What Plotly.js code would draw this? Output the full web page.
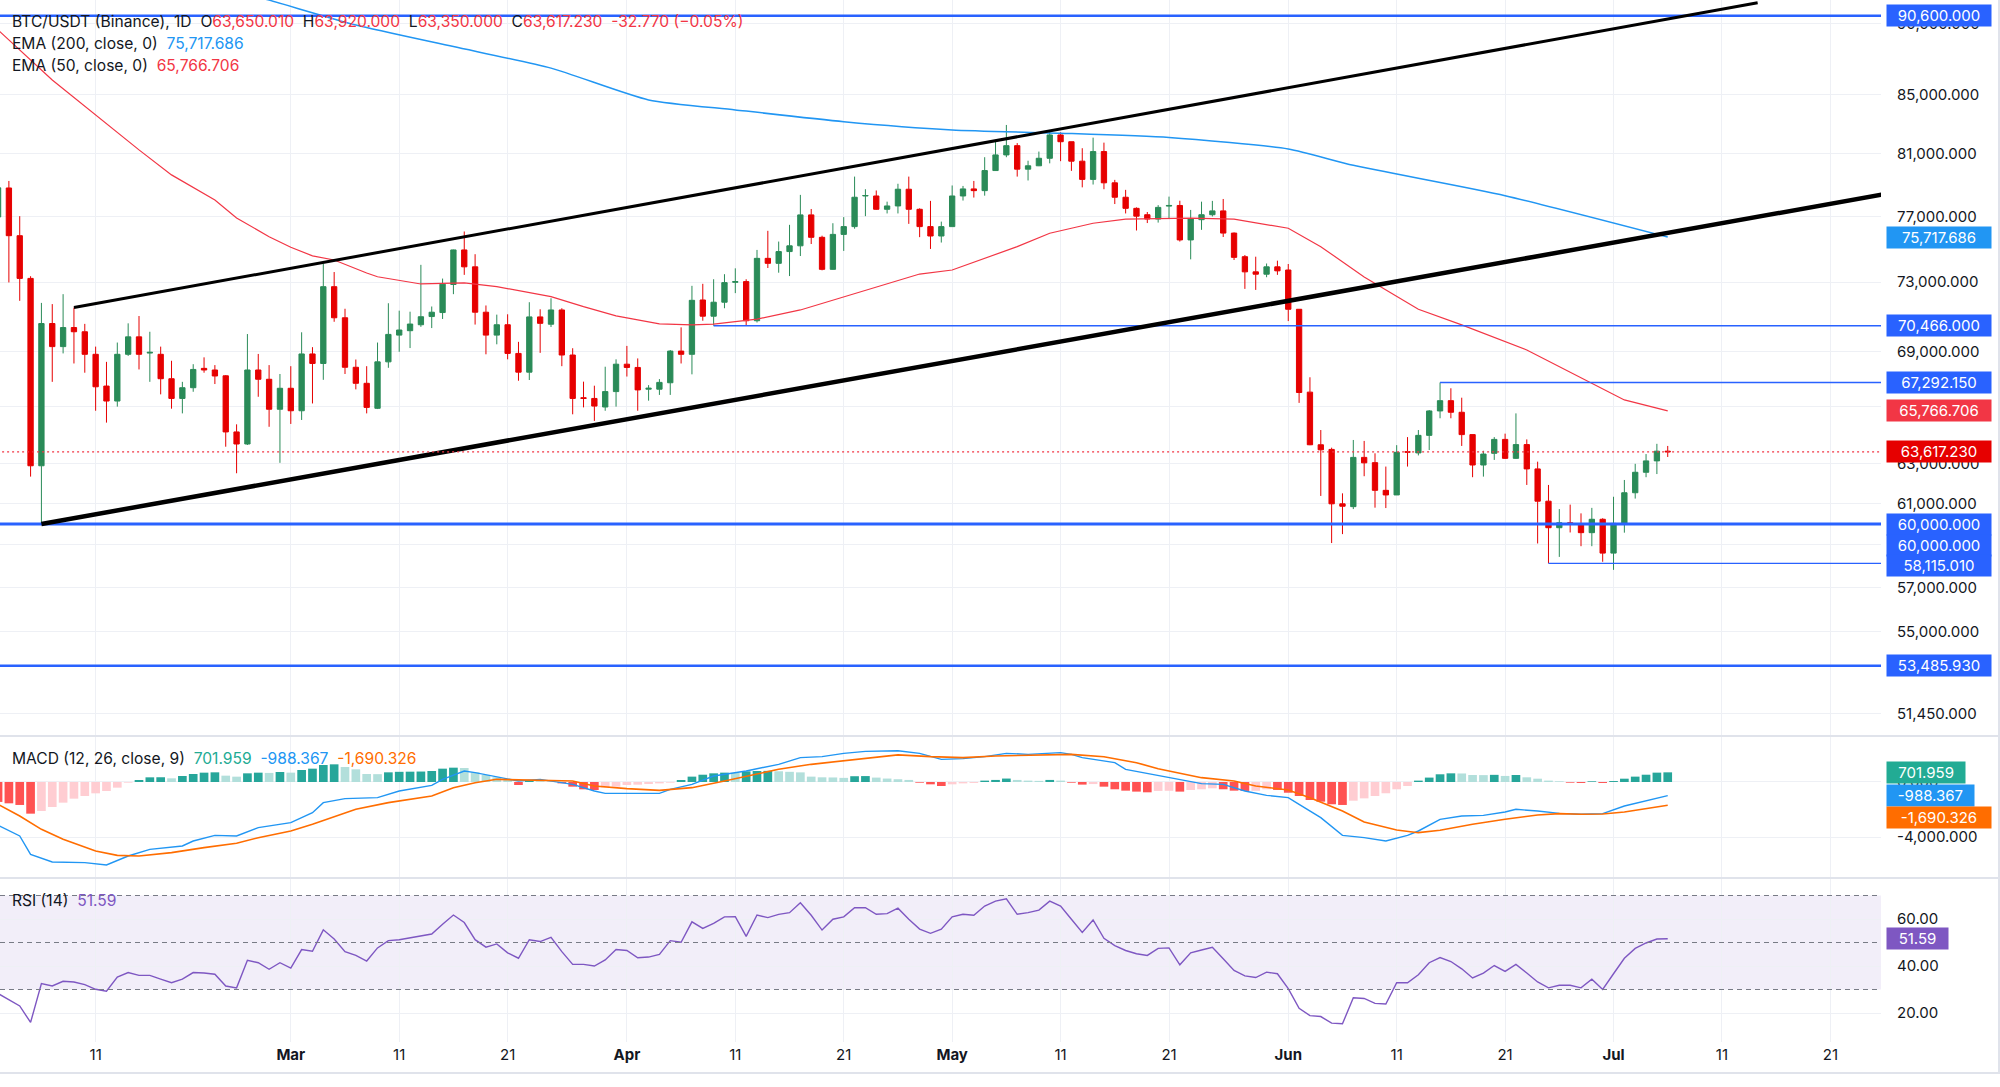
<!DOCTYPE html>
<html><head><meta charset="utf-8">
<script src="https://cdn.plot.ly/plotly-3.0.1.min.js"></script>
<style>html,body{margin:0;padding:0;background:#fff;}#chart{width:2000px;height:1087px;}</style>
</head><body><div id="chart"></div>
<script>
// ---------- DATA (BTC/USDT daily, 2026-02-02 .. 2026-07-06) ----------
const opens = [
76960,78790,75800,73220,62900,70590,69280,70360,70120,68850,67100,66290,68850,69830,68920,68850,67500,66430,67010,68070,67980,67660,64650,64020,67980,67470,65850,
66980,65770,68870,68340,72730,70920,68130,67250,65900,68430,69930,70180,70520,70990,71220,72860,74930,73910,71240,69930,70520,68900,67860,70970,70550,71370,68810,66470,66430,65970,66800,
68300,68120,66930,66930,67280,69030,68850,71950,71010,71820,72990,73030,70750,74420,74120,74830,75180,77090,75700,73760,75880,76360,78280,78280,77440,77650,78710,77440,76360,75780,
76360,78280,78730,78620,79910,80930,81540,80000,80220,80710,82250,81800,80520,79340,81150,79120,78200,77500,77100,76830,77640,77680,75540,76790,77100,77340,75960,74520,73610,73470,73910,
73720,71410,66770,63980,63740,60990,60850,63330,63060,61660,61430,63620,63560,64470,65760,66310,65690,64510,62940,63540,64260,63280,63990,62740,61120,59820,60060,60000,59580,60230,
58600,60030,61540,62570,63150,63650.01];
const highs = [
79400,79240,77010,73350,71780,71710,72290,71510,70570,69280,68430,69510,70600,71020,70120,69280,68490,67330,68300,68680,68250,67700,65050,69990,68870,68250,67760,
68190,70090,69250,74090,73600,71440,68560,68190,69510,71760,71330,71270,74030,71570,73210,74950,76060,74670,71630,71100,71120,69550,71820,71410,72050,71470,69190,67340,67120,68160,68570,
69320,68620,67150,67480,69090,70370,72780,72900,73170,73470,73820,73170,74930,76100,75440,76470,78350,77460,75800,76570,76950,79520,78710,78630,77920,79060,79520,77500,77970,76670,
78950,78920,79240,80780,81850,82920,81710,80550,81150,82520,82430,81800,81370,82070,81740,79310,78670,77560,77270,77700,78240,77980,77400,77920,77970,78090,76000,74620,74520,74110,74280,
74080,71410,67580,64750,63830,61510,64230,64180,63540,62860,63960,64380,64750,65810,67292.15,66980,66470,64510,63670,64380,64560,65630,64260,63110,61930,60730,60950,60520,60790,60280,
61340,62180,63000,63500,64030,63920];
const lows = [
76500,72980,71900,62350,60000,67330,68900,68340,67830,65770,65140,65990,68760,68010,67330,66650,65880,65630,66790,67830,67210,63880,62520,63970,66520,64920,63050,
65070,65280,66160,67440,70690,67760,66920,65630,65860,68100,68990,69200,70400,70330,70850,72290,73430,70530,68850,69410,68570,67390,67430,68930,70390,68190,65580,65950,65230,65770,65990,
67620,65770,66310,66620,66620,68340,67740,70750,70470,71470,72350,70500,70650,73840,73560,73360,74560,75290,73700,73740,74870,76230,77010,77400,77180,77180,76530,75710,74990,75380,
76360,77990,78180,78300,79890,80780,79520,79270,80200,80380,80520,79890,78830,79010,78710,77770,77180,76120,76580,76610,76830,75440,74360,76160,76990,75720,74320,72600,72540,73290,73430,
70730,66190,63960,61380,59080,59510,60730,62370,60800,60780,61430,62860,63430,63710,65370,65370,63920,62320,62350,63200,63250,63250,61930,59060,58115.01,58420,59590,58930,58930,58190,
57810,59580,61250,62320,62480,63350];
const closes = [
78800,75800,73220,62900,70590,69280,70360,70120,68850,67060,66290,68850,69830,68850,68960,67500,66430,67010,68010,67980,67650,64650,64020,67980,67470,65850,66980,
65770,68870,68340,72730,70920,68130,67250,65950,68430,69970,70220,70560,70980,71240,72880,74930,73910,71240,69930,70520,68900,67860,70970,70600,71370,68810,66430,66430,66020,66800,68300,
68120,66890,66980,67300,69030,68850,71930,71010,71820,72970,73030,70750,74420,74120,74830,75180,77090,75700,73760,75880,76360,78200,78310,77440,77650,78710,77440,76360,75780,76360,
78280,78730,78620,79910,80930,81540,80000,80220,80710,82250,81800,80520,79340,81150,79120,78200,77500,77010,76830,77560,77680,75540,76830,77100,77340,75960,74480,73610,73470,73910,73670,
71410,66750,63980,63720,60990,60870,63330,63050,61660,61430,63590,63600,64470,65760,66310,65690,64510,62940,63500,64260,63280,63990,62740,61120,59820,60060,60000,59580,60230,58600,
60030,61540,62570,63150,63650,63617.23];

const ema200Dates = ['2026-02-20','2026-02-27','2026-03-07','2026-03-16','2026-03-25','2026-04-03','2026-04-11','2026-04-21','2026-05-01','2026-05-11','2026-05-21','2026-06-01','2026-06-07','2026-06-21','2026-07-06'];
const ema200Vals  = [93300,91750,89920,88360,86830,84620,83940,83140,82590,82370,82080,81320,80250,78300,75717.686];

const ema50Dates = ['2026-02-02','2026-02-07','2026-02-15','2026-02-18','2026-02-22','2026-02-24','2026-02-27','2026-03-01','2026-03-03','2026-03-05','2026-03-08','2026-03-09','2026-03-13','2026-03-17','2026-03-20','2026-03-23','2026-03-25','2026-03-28','2026-03-31','2026-04-04','2026-04-07','2026-04-09','2026-04-13','2026-04-17','2026-04-20','2026-04-24','2026-04-28','2026-05-01','2026-05-04','2026-05-07','2026-05-10','2026-05-14','2026-05-17','2026-05-23','2026-05-27','2026-06-01','2026-06-04','2026-06-08','2026-06-13','2026-06-17','2026-06-23','2026-06-29','2026-07-02','2026-07-06'];
const ema50Vals  = [89560,86000,81260,79630,78030,76900,75740,75090,74570,74320,73540,73320,72890,72960,72730,72380,72150,71560,71030,70570,70510,70550,70840,71370,71950,72730,73480,73720,74430,75130,75950,76570,76820,76890,76820,76260,75130,73300,71410,70510,69090,67250,66350,65766.706];

const macdDates = ['2026-02-02','2026-02-04','2026-02-05','2026-02-07','2026-02-10','2026-02-12','2026-02-14','2026-02-16','2026-02-19','2026-02-20','2026-02-22','2026-02-24','2026-02-26','2026-03-01','2026-03-03','2026-03-04','2026-03-06','2026-03-09','2026-03-11','2026-03-14','2026-03-15','2026-03-17','2026-03-18','2026-03-20','2026-03-22','2026-03-24','2026-03-27','2026-03-29','2026-03-30','2026-04-01','2026-04-04','2026-04-05','2026-04-07','2026-04-09','2026-04-12','2026-04-15','2026-04-17','2026-04-19','2026-04-21','2026-04-23','2026-04-26','2026-04-28','2026-04-30','2026-05-02','2026-05-04','2026-05-06','2026-05-08','2026-05-11','2026-05-12','2026-05-13','2026-05-16','2026-05-17','2026-05-20','2026-05-22','2026-05-24','2026-05-26','2026-05-28','2026-05-30','2026-06-01','2026-06-02','2026-06-04','2026-06-06','2026-06-08','2026-06-10','2026-06-12','2026-06-13','2026-06-15','2026-06-17','2026-06-19','2026-06-21','2026-06-22','2026-06-24','2026-06-26','2026-06-28','2026-06-30','2026-07-02','2026-07-04','2026-07-06'];
const macdVals  = [-3151,-3927,-5260,-5818,-5866,-6036,-5381,-4897,-4654,-4291,-3879,-3927,-3321,-2957,-2230,-1503,-1212,-1139,-655,-243,194,800,679,388,73,194,-170,-655,-824,-824,-824,-533,-170,436,800,1285,1769,1842,2085,2230,2270,2085,1648,1697,1842,2085,2012,2133,2012,1769,1406,921,485,194,-121,-170,-655,-970,-1139,-1624,-2594,-3879,-4048,-4291,-3879,-3563,-2715,-2473,-2424,-2182,-1988,-2109,-2279,-2351,-2303,-1745,-1350,-988.367];

const signalDates = ['2026-02-02','2026-02-04','2026-02-06','2026-02-08','2026-02-11','2026-02-13','2026-02-15','2026-02-18','2026-02-21','2026-02-24','2026-02-26','2026-03-01','2026-03-03','2026-03-05','2026-03-07','2026-03-10','2026-03-14','2026-03-16','2026-03-18','2026-03-20','2026-03-24','2026-03-27','2026-03-29','2026-04-01','2026-04-04','2026-04-07','2026-04-10','2026-04-13','2026-04-15','2026-04-18','2026-04-21','2026-04-26','2026-04-29','2026-05-02','2026-05-05','2026-05-08','2026-05-12','2026-05-15','2026-05-18','2026-05-20','2026-05-22','2026-05-24','2026-05-27','2026-05-29','2026-06-01','2026-06-03','2026-06-06','2026-06-08','2026-06-11','2026-06-13','2026-06-15','2026-06-18','2026-06-21','2026-06-24','2026-06-26','2026-06-28','2026-06-30','2026-07-02','2026-07-06'];
const signalVals  = [-1624,-2473,-3442,-4169,-5018,-5333,-5381,-5139,-4775,-4460,-4048,-3563,-3079,-2530,-1988,-1503,-1018,-412,-49,194,145,73,-291,-485,-606,-412,73,557,921,1285,1527,1970,1842,1769,1891,1963,2012,1842,1406,970,630,315,73,-291,-582,-1139,-2109,-2909,-3491,-3685,-3515,-3079,-2715,-2400,-2303,-2351,-2327,-2182,-1690.326];

const macdHist = [
-1450,-1551,-1670,-2303,-2109,-1818,-1503,-1212,-1018,-824,-655,-412,-49,145,339,345,267,436,582,679,703,461,388,630,679,660,727,
680,873,970,1236,1285,1090,921,582,570,703,740,750,760,800,970,1042,1018,703,509,339,194,-218,100,60,40,-100,-340,-533,-582,-390,-340,
-220,-195,-145,-100,-50,145,390,530,630,680,660,775,800,810,780,740,700,390,340,330,300,420,430,320,250,200,150,-50,-170,-290,
-170,-100,-70,100,150,250,150,100,80,150,100,-50,-190,-150,-340,-530,-630,-700,-750,-650,-640,-700,-580,-530,-460,-530,-630,-650,-640,-530,-580,
-780,-1020,-1310,-1430,-1620,-1670,-1360,-1190,-1020,-820,-530,-290,100,320,560,630,620,510,500,520,440,510,340,240,100,50,-50,-70,50,-70,
70,240,390,530,680,701.959];

const rsiVals = [
28.3,25.5,23.0,16.0,32.5,31.5,33.5,33.2,32.1,30.1,29.3,35.3,37.2,36.0,36.0,34.4,32.9,34.4,37.2,37.0,36.5,31.5,30.7,42.4,41.4,38.6,41.4,
39.1,47.0,46.3,55.4,51.5,46.1,44.5,42.1,47.7,50.8,51.2,52.0,52.9,53.6,57.8,61.7,58.5,51.2,48.0,49.4,45.6,43.3,51.2,50.4,52.2,46.1,40.7,40.7,40.0,42.6,47.0,
46.6,43.5,43.8,44.9,50.8,50.1,58.8,56.0,58.1,60.9,61.0,52.6,61.7,60.6,62.0,62.7,66.9,61.6,55.3,59.9,60.9,64.8,64.8,62.0,62.3,64.6,59.9,55.7,
53.9,55.7,60.9,62.0,61.6,65.5,67.6,68.6,62.0,62.7,63.8,67.6,65.5,59.9,54.3,59.6,51.8,48.7,46.6,45.2,44.5,47.5,47.7,40.5,45.6,46.8,48.0,43.1,38.1,
35.8,35.1,37.4,36.7,30.4,22.0,18.9,18.5,15.7,15.4,26.5,26.2,24.1,23.8,32.9,32.9,36.3,41.4,43.6,41.9,38.8,34.9,37.0,40.2,37.7,40.7,37.0,33.2,30.7,31.8,31.8,30.7,34.4,30.0,
36.7,43.3,47.5,49.8,51.5,51.59];

// drawings
const hLevelsFull = [90600, 60000, 53485.93];
const hLevelsRay = [{v:70466, from:'2026-04-09'}, {v:67292.15, from:'2026-06-15'}, {v:58115.01, from:'2026-06-25'}];
const upperTrend = {x:['2026-02-09','2026-07-14 07:00'], y:[71510, 91560]};
const lowerTrend = {x:['2026-02-06','2026-07-26'], y:[60000, 78400]};
const lastPrice = 63617.23;

const tickDates = ['2026-02-11','2026-03-01','2026-03-11','2026-03-21','2026-04-01','2026-04-11','2026-04-21','2026-05-01','2026-05-11','2026-05-21','2026-06-01','2026-06-11','2026-06-21','2026-07-01','2026-07-11','2026-07-21'];
const tickLabels = ['11','Mar','11','21','Apr','11','21','May','11','21','Jun','11','21','Jul','11','21'];
const priceTicks = [90000,85000,81000,77000,73000,69000,66000,63000,61000,59000,57000,55000,51450];
const hiddenPriceTicks = [66000, 59000];

// ---------- BUILD ----------
const dates = [];
for (let i = 0; i < opens.length; i++) {
  const d = new Date(Date.UTC(2026, 1, 2 + i));
  dates.push(d.toISOString().slice(0, 10));
}
const UP = '#2a8b58', DOWN = '#e60000';
const FONT = 'Inter, "Noto Sans", Roboto, sans-serif';
const fmt = (v, d) => v.toLocaleString('en-US', {minimumFractionDigits: d, maximumFractionDigits: d});
const xL = '2026-01-20', xR = '2026-08-10';
const PH = 1042; // plot height in px

const histColors = macdHist.map((v, i) => {
  const p = i > 0 ? macdHist[i - 1] : v;
  if (v >= 0) return v >= p ? '#26a69a' : '#b2dfdb';
  return v <= p ? '#ff5252' : '#ffcdd2';
});

const traces = [];
traces.push({type:'candlestick', x:dates, open:opens, high:highs, low:lows, close:closes, xaxis:'x', yaxis:'y',
  increasing:{line:{color:UP, width:1}, fillcolor:UP}, decreasing:{line:{color:DOWN, width:1}, fillcolor:DOWN},
  whiskerwidth:0, hoverinfo:'skip', showlegend:false});
traces.push({type:'scatter', mode:'lines', x:ema50Dates, y:ema50Vals, yaxis:'y', line:{color:'#f23645', width:1.2}, hoverinfo:'skip'});
traces.push({type:'scatter', mode:'lines', x:ema200Dates, y:ema200Vals, yaxis:'y', line:{color:'#2196f3', width:1.5, shape:'spline', smoothing:0.6}, hoverinfo:'skip'});
hLevelsFull.forEach(v => traces.push({type:'scatter', mode:'lines', x:[xL, xR], y:[v, v], yaxis:'y',
  line:{color:'#2962ff', width: v === 60000 ? 3 : 2.5}, hoverinfo:'skip'}));
hLevelsRay.forEach(h => traces.push({type:'scatter', mode:'lines', x:[h.from, xR], y:[h.v, h.v], yaxis:'y',
  line:{color:'#2962ff', width:1.4}, hoverinfo:'skip'}));
traces.push({type:'scatter', mode:'lines', x:upperTrend.x, y:upperTrend.y, yaxis:'y', line:{color:'#000', width:3}, hoverinfo:'skip'});
traces.push({type:'scatter', mode:'lines', x:lowerTrend.x, y:lowerTrend.y, yaxis:'y', line:{color:'#000', width:4.5}, hoverinfo:'skip'});
traces.push({type:'scatter', mode:'lines', x:[xL, xR], y:[lastPrice, lastPrice], yaxis:'y', line:{color:'#f23645', width:1.3, dash:'2px,3px'}, hoverinfo:'skip'});
// MACD
traces.push({type:'bar', x:dates, y:macdHist, yaxis:'y2', marker:{color:histColors, line:{width:0}}, width:0.8*86400000, hoverinfo:'skip'});
traces.push({type:'scatter', mode:'lines', x:macdDates, y:macdVals, yaxis:'y2', line:{color:'#2196f3', width:1.4}, hoverinfo:'skip'});
traces.push({type:'scatter', mode:'lines', x:signalDates, y:signalVals, yaxis:'y2', line:{color:'#ff6d00', width:1.6}, hoverinfo:'skip'});
// RSI
traces.push({type:'scatter', mode:'lines', x:dates, y:rsiVals, yaxis:'y3', line:{color:'#7e57c2', width:1.4}, hoverinfo:'skip'});

// axes
const mainTop = Math.log10(60000) + 524/2840, mainBot = Math.log10(60000) - 212/2840;
const gridC = '#eef0f5';
const yTickFont = {family:FONT, size:15, color:'#131722'};

function box(yref, val, text, color, yshift) {
  return {xref:'paper', x:1, xanchor:'left', xshift:5, yref:yref, y: yref === 'y' ? Math.log10(val) : val,
    yanchor:'middle', yshift: yshift || 0, text:text, showarrow:false,
    font:{family:FONT, size:15, color:'#ffffff'}, bgcolor:color, borderpad:0,
    width: text.length * 8.6 + 18, height:21, align:'center', valign:'middle'};
}
const annotations = [
  box('y', 90600, fmt(90600,3), '#2962ff'),
  box('y', 75717.686, fmt(75717.686,3), '#2196f3'),
  box('y', 70466, fmt(70466,3), '#2962ff'),
  box('y', 67292.15, fmt(67292.15,3), '#2962ff'),
  box('y', 65766.706, fmt(65766.706,3), '#f23645'),
  box('y', lastPrice, fmt(lastPrice,3), '#e60000'),
  box('y', 60000, fmt(60000,3), '#2962ff'),
  box('y', 60000, fmt(60000,3), '#2962ff', -21),
  box('y', 58115.01, fmt(58115.01,3), '#2962ff', -2.6),
  box('y', 53485.93, fmt(53485.93,3), '#2962ff'),
  box('y2', 701.959, fmt(701.959,3), '#22ab94'),
  box('y2', -988.367, fmt(-988.367,3), '#2196f3'),
  box('y2', -1690.326, fmt(-1690.326,3), '#ff6d00', -12),
  box('y3', 51.59, fmt(51.59,2), '#7e57c2'),
];
const S = '\u00a0';
const red = s => '<span style="color:#f23645">' + s + '</span>';
function legend(py, html) {
  return {xref:'paper', x:0, xanchor:'left', xshift:10, yref:'paper', y:1 - py/PH, yanchor:'middle',
    text:html, showarrow:false, align:'left', font:{family:FONT, size:15.6, color:'#131722'}};
}
annotations.push(legend(21.5, 'BTC/USDT (Binance), 1D' + S + S + 'O' + red(fmt(opens[opens.length-1],3)) + S + S + 'H' + red(fmt(highs[highs.length-1],3)) + S + S + 'L' + red(fmt(lows[lows.length-1],3)) + S + S + 'C' + red(fmt(closes[closes.length-1],3)) + S + S + red('-32.770 (\u22120.05%)')));
annotations.push(legend(43.5, 'EMA (200, close, 0)' + S + S + '<span style="color:#2196f3">' + fmt(75717.686,3) + '</span>'));
annotations.push(legend(65.5, 'EMA (50, close, 0)' + S + S + red(fmt(65766.706,3))));
annotations.push(legend(758, 'MACD (12, 26, close, 9)' + S + S + '<span style="color:#22ab94">701.959</span>' + S + S + '<span style="color:#2196f3">-988.367</span>' + S + S + '<span style="color:#ff6d00">-1,690.326</span>'));
annotations.push(legend(900, 'RSI (14)' + S + S + '<span style="color:#7e57c2">51.59</span>'));

const sepC = '#e0e3eb';
const shapes = [
  {type:'rect', xref:'paper', x0:0, x1:1, yref:'y3', y0:30, y1:70, fillcolor:'rgba(126,87,194,0.1)', line:{width:0}, layer:'below'},
  {type:'line', xref:'paper', x0:0, x1:1, yref:'y3', y0:70, y1:70, line:{color:'#787b86', width:1, dash:'5px,4px'}},
  {type:'line', xref:'paper', x0:0, x1:1, yref:'y3', y0:50, y1:50, line:{color:'#787b86', width:1, dash:'5px,4px'}},
  {type:'line', xref:'paper', x0:0, x1:1, yref:'y3', y0:30, y1:30, line:{color:'#787b86', width:1, dash:'5px,4px'}},
  {type:'line', xref:'paper', x0:0, x1:2000/1881, yref:'paper', y0:1-736/PH, y1:1-736/PH, line:{color:sepC, width:2}},
  {type:'line', xref:'paper', x0:0, x1:2000/1881, yref:'paper', y0:1-878/PH, y1:1-878/PH, line:{color:sepC, width:2}},
  {type:'line', xref:'paper', x0:0, x1:2000/1881, yref:'paper', y0:-31/PH, y1:-31/PH, line:{color:sepC, width:2}},
  {type:'line', xref:'paper', x0:1999/1881, x1:1999/1881, yref:'paper', y0:-31/PH, y1:1, line:{color:sepC, width:2}},
];

const layout = {
  width:2000, height:1087, margin:{l:0, r:119, t:0, b:45},
  paper_bgcolor:'#ffffff', plot_bgcolor:'#ffffff', showlegend:false, hovermode:false,
  font:{family:FONT, size:15, color:'#131722'},
  xaxis:{type:'date', anchor:'y3', range:['2026-02-02 04:19','2026-07-25 16:05'], tickmode:'array', tickvals:tickDates,
    ticktext:tickLabels.map(t => isNaN(+t) ? '<b>' + t + '</b>' : t), showgrid:true, gridcolor:gridC, gridwidth:1,
    ticks:'', showline:false, zeroline:false, rangeslider:{visible:false}, tickfont:{family:FONT, size:15, color:'#131722'}, ticklabelstandoff:2},
  yaxis:{domain:[1-736/PH, 1], type:'log', range:[mainBot, mainTop], side:'right', anchor:'x', tickmode:'array',
    tickvals:priceTicks, ticktext:priceTicks.map(v => hiddenPriceTicks.includes(v) ? '' : fmt(v,3)), showgrid:true, gridcolor:gridC, zeroline:false, ticks:'', showline:false,
    tickfont:yTickFont, ticklabelstandoff:15},
  yaxis2:{domain:[1-878/PH, 1-736/PH], range:[-6982, 3345], side:'right', anchor:'x', tickmode:'array',
    tickvals:[0,-4000], ticktext:['0.000','-4,000.000'], showgrid:true, gridcolor:gridC, zeroline:false, ticks:'', showline:false,
    tickfont:yTickFont, ticklabelstandoff:15},
  yaxis3:{domain:[0, 1-878/PH], range:[7.66, 77.45], side:'right', anchor:'x', tickmode:'array',
    tickvals:[20,40,60], ticktext:['20.00','40.00','60.00'], showgrid:true, gridcolor:gridC, zeroline:false, ticks:'', showline:false,
    tickfont:yTickFont, ticklabelstandoff:15},
  bargap:0.2,
  annotations:annotations, shapes:shapes
};
Plotly.newPlot('chart', traces, layout, {displayModeBar:false, staticPlot:true});
</script>
</body></html>
